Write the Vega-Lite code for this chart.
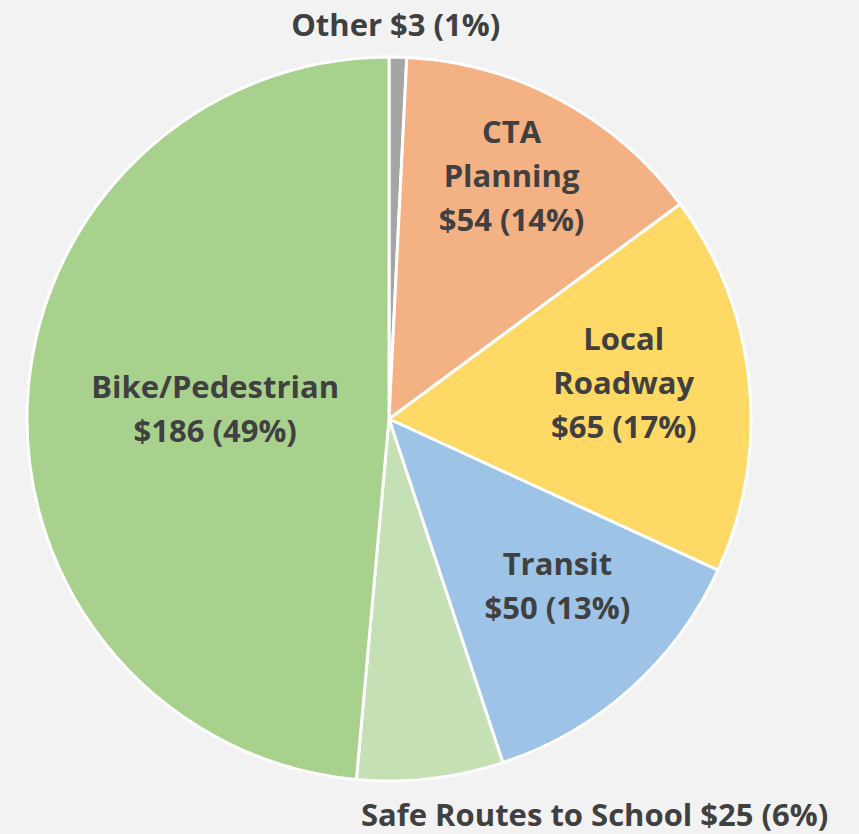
{
  "$schema": "https://vega.github.io/schema/vega-lite/v6.json",
  "autosize": {"type": "none"},
  "width": 724,
  "height": 724,
  "padding": {"left": 27, "top": 57, "right": 108, "bottom": 53},
  "background": "#f2f2f2",
  "config": {"view": {"stroke": null}},
  "data": {"values": [
    {"rank": 1, "category": "Other", "value": 3, "label": "Other $3 (1%)"},
    {"rank": 2, "category": "CTA Planning", "value": 54, "label": "CTA\nPlanning\n$54 (14%)"},
    {"rank": 3, "category": "Local Roadway", "value": 65, "label": "Local\nRoadway\n$65 (17%)"},
    {"rank": 4, "category": "Transit", "value": 50, "label": "Transit\n$50 (13%)"},
    {"rank": 5, "category": "Safe Routes to School", "value": 25, "label": "Safe Routes to School $25 (6%)"},
    {"rank": 6, "category": "Bike/Pedestrian", "value": 186, "label": "Bike/Pedestrian\n$186 (49%)"}
  ]},
  "encoding": {
    "theta": {"field": "value", "type": "quantitative", "stack": true},
    "order": {"field": "rank", "type": "quantitative"}
  },
  "layer": [
    {
      "mark": {"type": "arc", "stroke": "#ffffff", "strokeWidth": 3},
      "encoding": {
        "color": {
          "field": "category",
          "type": "nominal",
          "scale": {
            "domain": ["Other", "CTA Planning", "Local Roadway", "Transit", "Safe Routes to School", "Bike/Pedestrian"],
            "range": ["#a5a5a5", "#f4b183", "#ffd966", "#9dc3e6", "#c5e0b4", "#a9d18e"]
          },
          "legend": null
        }
      }
    },
    {
      "mark": {"type": "text", "radius": 394, "dx": -3, "dy": 2, "font": "Open Sans", "fontWeight": "bold", "fontSize": 31, "fill": "#404040", "baseline": "middle", "align": "center", "lineBreak": "\n", "lineHeight": 44},
      "encoding": {"text": {"condition": {"test": "datum.category === 'Other'", "field": "label"}, "value": ""}}
    },
    {
      "mark": {"type": "text", "radius": 272, "dx": -6, "dy": -45, "font": "Open Sans", "fontWeight": "bold", "fontSize": 31, "fill": "#404040", "baseline": "middle", "align": "center", "lineBreak": "\n", "lineHeight": 44},
      "encoding": {"text": {"condition": {"test": "datum.category === 'CTA Planning'", "field": "label"}, "value": ""}}
    },
    {
      "mark": {"type": "text", "radius": 237, "dx": -1, "dy": -54, "font": "Open Sans", "fontWeight": "bold", "fontSize": 31, "fill": "#404040", "baseline": "middle", "align": "center", "lineBreak": "\n", "lineHeight": 44},
      "encoding": {"text": {"condition": {"test": "datum.category === 'Local Roadway'", "field": "label"}, "value": ""}}
    },
    {
      "mark": {"type": "text", "radius": 236, "dx": 11, "dy": -29, "font": "Open Sans", "fontWeight": "bold", "fontSize": 31, "fill": "#404040", "baseline": "middle", "align": "center", "lineBreak": "\n", "lineHeight": 44},
      "encoding": {"text": {"condition": {"test": "datum.category === 'Transit'", "field": "label"}, "value": ""}}
    },
    {
      "mark": {"type": "text", "radius": 398, "dx": 160, "dy": 3, "font": "Open Sans", "fontWeight": "bold", "fontSize": 31, "fill": "#404040", "baseline": "middle", "align": "center", "lineBreak": "\n", "lineHeight": 44},
      "encoding": {"text": {"condition": {"test": "datum.category === 'Safe Routes to School'", "field": "label"}, "value": ""}}
    },
    {
      "mark": {"type": "text", "radius": 174, "dy": -22, "font": "Open Sans", "fontWeight": "bold", "fontSize": 31, "fill": "#404040", "baseline": "middle", "align": "center", "lineBreak": "\n", "lineHeight": 44},
      "encoding": {"text": {"condition": {"test": "datum.category === 'Bike/Pedestrian'", "field": "label"}, "value": ""}}
    }
  ]
}
